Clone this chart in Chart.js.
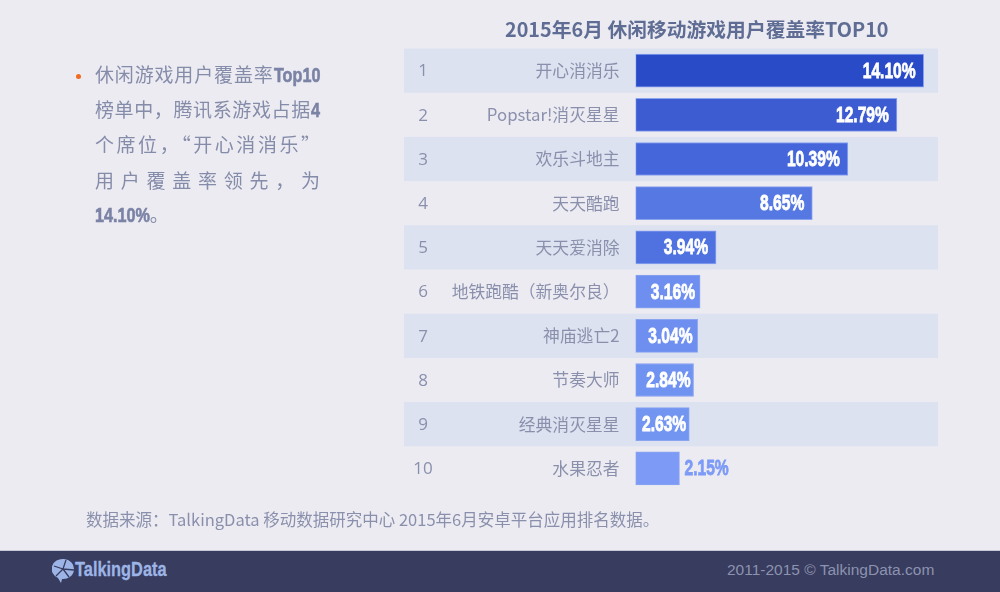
<!DOCTYPE html>
<html>
<head>
<meta charset="utf-8">
<script src="https://cdn.jsdelivr.net/npm/chart.js@4"></script>
<style>
html,body{margin:0;padding:0;width:1000px;height:592px;overflow:hidden;background:#ecebf2;font-family:"Noto Sans CJK SC",sans-serif}
#c{position:absolute;left:0;top:0}
.t{position:absolute;white-space:nowrap}
#title{left:505px;top:14px;font-size:19.8px;font-weight:700;color:#5f6d94}
#bullet{left:76px;top:74px;width:5px;height:5px;border-radius:50%;background:#f26a21}
.ln{position:absolute;left:95px;width:225px;font-size:19px;line-height:26px;color:#858ca9;text-align:justify;text-align-last:justify}
.ln.s{text-align-last:left}
.ln b{display:inline-block;font-family:"Liberation Sans";font-size:20px;font-weight:700;color:#7b83a5;-webkit-text-stroke:.6px #7b83a5;transform:scaleX(.81);transform-origin:right}
.ln b.l{transform-origin:left}
#source{left:86px;top:507px;font-size:16.5px;color:#8a90ac}
#foot{position:absolute;left:0;top:550px;width:1000px;height:42px;background:#383c5e;border-top:1px solid #c5c7d6;box-sizing:border-box}
#logo{left:75px;top:557px;font-family:"Liberation Sans";font-weight:700;font-size:21px;color:#9cb5e6;-webkit-text-stroke:.3px #9cb5e6;transform:scaleX(.78);transform-origin:left}
#copy{left:727px;top:561px;font-family:"Liberation Sans";font-size:15.5px;color:#8c93b0}
</style>
</head>
<body>
<canvas id="c" width="1000" height="592"></canvas>
<div class="t" id="title">2015年6月 休闲移动游戏用户覆盖率TOP10</div>
<div class="t" id="bullet"></div>
<div class="ln" style="top:61px">休闲游戏用户覆盖率<b style="margin-left:-11px">Top10</b></div>
<div class="ln" style="top:96px">榜单中，腾讯系游戏占据<b style="margin-left:-2px">4</b></div>
<div class="ln" style="top:131px">个席位，“开心消消乐”</div>
<div class="ln" style="top:167px">用户覆盖率领先，为</div>
<div class="ln s" style="top:201px"><b class="l" style="margin-right:-13px">14.10%</b>。</div>
<div class="t" id="source">数据来源：TalkingData 移动数据研究中心 2015年6月安卓平台应用排名数据。</div>
<div id="foot"></div>
<svg class="t" style="left:52px;top:558px" width="24" height="26" viewBox="0 0 24 26">
<path d="M12 1a11 10 0 1 1-2 20l-1 4-3-5A11 10 0 0 1 12 1z" fill="#9cb5e6"/>
<path d="M2 8l9 3 3-9M11 11l-7 7M11 11l6 8M11 11l11 1" stroke="#383c5e" stroke-width="1.3" fill="none"/>
</svg>
<div class="t" id="logo">TalkingData</div>
<div class="t" id="copy">2011-2015 © TalkingData.com</div>
<script>
const ranks = ["1", "2", "3", "4", "5", "6", "7", "8", "9", "10"];
const games = ["开心消消乐", "Popstar!消灭星星", "欢乐斗地主", "天天酷跑", "天天爱消除", "地铁跑酷（新奥尔良）", "神庙逃亡2", "节奏大师", "经典消灭星星", "水果忍者"];
const coverage = [14.10, 12.79, 10.39, 8.65, 3.94, 3.16, 3.04, 2.84, 2.63, 2.15];
const barColors = ["#2a4bc8", "#3e5cd2", "#4566da", "#5678e2", "#4f72e0", "#6e8ff0", "#6e8ff0", "#7093f2", "#7295f2", "#7d9bf6"];

const rowStuff = {
    id: "rowStuff",
    beforeDraw(chart) {
        const c = chart.ctx, y = chart.scales.y, a = chart.chartArea;
        const step = y.getPixelForValue(1) - y.getPixelForValue(0);
        c.save();
        c.fillStyle = "#dce2f0";
        games.forEach((g, i) => {
            if (i % 2 == 0) c.fillRect(404, y.getPixelForValue(i) - step / 2, a.right - 404, step);
        });
        c.fillStyle = "#8a90ac";
        c.font = "17px 'Open Sans'";
        c.textAlign = "center";
        c.textBaseline = "middle";
        ranks.forEach((r, i) => c.fillText(r, 423, y.getPixelForValue(i) + 1));
        c.restore();
    },
    afterDatasetsDraw(chart) {
        const c = chart.ctx, x = chart.scales.x, y = chart.scales.y;
        c.font = "bold 22px 'Liberation Sans'";
        c.textBaseline = "middle";
        coverage.forEach((v, i) => {
            const end = x.getPixelForValue(v), w = end - x.getPixelForValue(0);
            const txt = v.toFixed(2) + "%";
            let px;
            c.save();
            c.fillStyle = c.strokeStyle = i == 9 ? "#7d9bf6" : "#fff";
            c.lineWidth = 0.8;
            if (i == 9) { c.textAlign = "left"; px = end + 5; }
            else { c.textAlign = "right"; px = end - (w >= 65 ? 8 : w >= 60 ? 5 : 3); }
            c.translate(px, y.getPixelForValue(i) + 1);
            c.scale(0.71, 1);
            c.fillText(txt, 0, 0);
            c.strokeText(txt, 0, 0);
            c.restore();
        });
    }
};

new Chart(document.getElementById("c").getContext("2d"), {
    type: "bar",
    data: {
        labels: games,
        datasets: [{
            data: coverage,
            backgroundColor: barColors,
            borderColor: "#8aa4f0",
            borderWidth: 1,
            borderSkipped: false,
            barThickness: 33
        }]
    },
    plugins: [rowStuff],
    options: {
        indexAxis: "y",
        responsive: false,
        animation: false,
        layout: { padding: { top: 48.5, bottom: 101.5, right: 62, left: 0 } },
        plugins: { legend: { display: false }, tooltip: { enabled: false } },
        scales: {
            x: { display: false, min: 0, max: 14.8 },
            y: {
                afterFit: s => { s.width = 635.5; },
                grid: { display: false, drawTicks: false },
                border: { display: false },
                ticks: {
                    autoSkip: false,
                    padding: 16,
                    color: "#8a90ac",
                    font: { family: "'Noto Sans CJK SC'", size: 16.8 }
                }
            }
        }
    }
});
</script>
</body>
</html>
